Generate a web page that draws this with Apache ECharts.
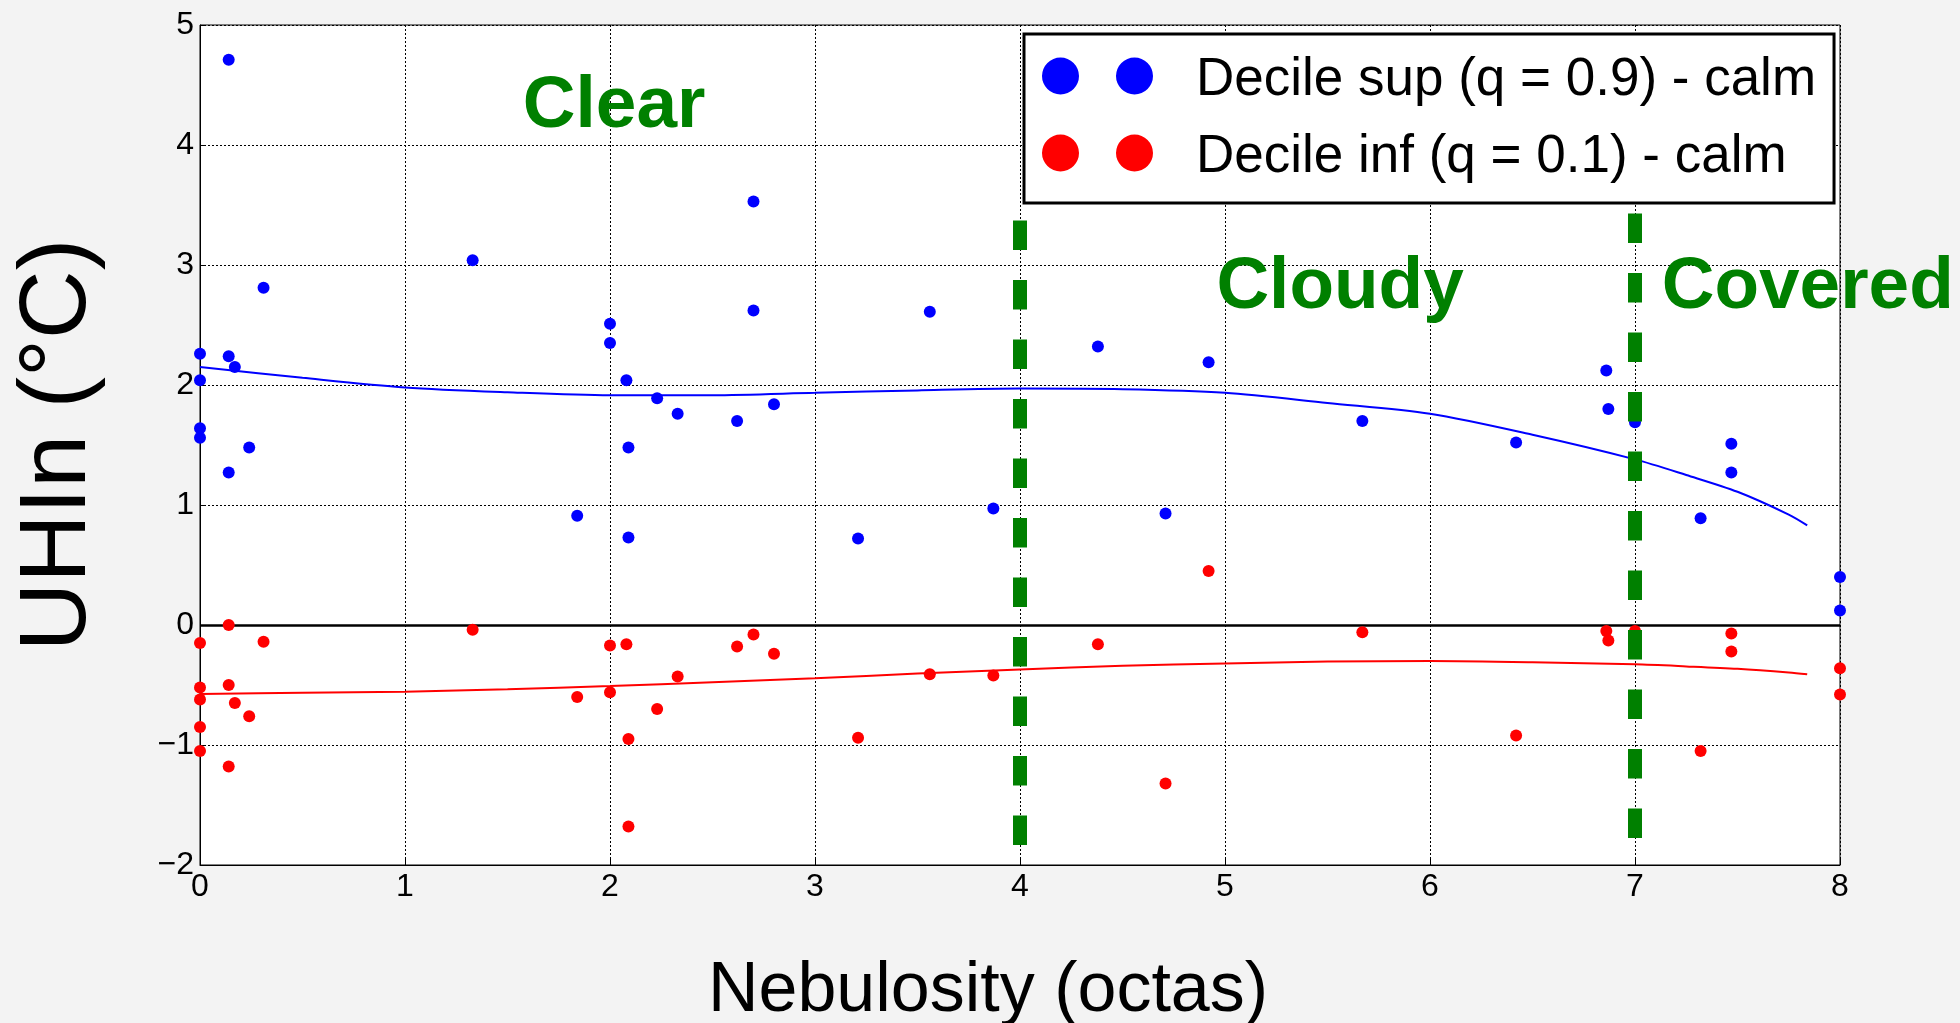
<!DOCTYPE html>
<html><head><meta charset="utf-8">
<script src="https://cdn.jsdelivr.net/npm/echarts@6/dist/echarts.min.js"></script>
<style>html,body{margin:0;padding:0;background:#f3f3f3;}#chart{width:1960px;height:1023px;}</style>
</head><body><div id="chart"></div>
<script>
// Upper decile (q = 0.9) points
const SUP_X = [0.14, 0, 0, 0, 0, 0.14, 0.17, 0.14, 0.24, 0.31, 1.33, 1.84, 2.0, 2.0, 2.08, 2.09, 2.09, 2.23, 2.33, 2.62, 2.70, 2.70, 2.80, 3.21, 3.56, 3.87, 4.38, 4.71, 4.92, 5.67, 6.42, 6.86, 6.87, 7.0, 7.32, 7.47, 7.47, 8, 8];
const SUP_Y = [4.71, 2.26, 2.04, 1.64, 1.56, 2.24, 2.15, 1.27, 1.48, 2.81, 3.04, 0.91, 2.51, 2.35, 2.04, 1.48, 0.73, 1.89, 1.76, 1.70, 3.53, 2.62, 1.84, 0.72, 2.61, 0.97, 2.32, 0.93, 2.19, 1.70, 1.52, 2.12, 1.80, 1.69, 0.89, 1.51, 1.27, 0.40, 0.12];
// Lower decile (q = 0.1) points
const INF_X = [0.14, 0, 0.31, 1.33, 2.0, 2.08, 2.62, 2.70, 2.80, 2.33, 0.14, 0, 0, 0.17, 1.84, 2.0, 2.23, 0.24, 0, 0, 2.09, 0.14, 2.09, 3.21, 3.56, 3.87, 4.38, 4.71, 4.92, 5.67, 6.42, 6.86, 6.87, 7.0, 7.32, 7.47, 7.47, 8, 8];
const INF_Y = [0.0, -0.15, -0.14, -0.04, -0.17, -0.16, -0.18, -0.08, -0.24, -0.43, -0.50, -0.52, -0.62, -0.65, -0.60, -0.56, -0.70, -0.76, -0.85, -1.05, -0.95, -1.18, -1.68, -0.94, -0.41, -0.42, -0.16, -1.32, 0.45, -0.06, -0.92, -0.05, -0.13, -0.05, -1.05, -0.07, -0.22, -0.36, -0.58];
// Fitted curves
const FIT_X = [0, 0.5, 1, 1.5, 2, 2.5, 3, 3.5, 4, 4.5, 5, 5.5, 6, 6.5, 7, 7.25, 7.5, 7.75, 7.84];
const FIT_SUP = [2.15, 2.06, 1.98, 1.94, 1.915, 1.915, 1.935, 1.955, 1.97, 1.965, 1.935, 1.85, 1.76, 1.585, 1.38, 1.25, 1.11, 0.92, 0.83];
const FIT_INF = [-0.575, -0.565, -0.556, -0.535, -0.508, -0.477, -0.444, -0.405, -0.37, -0.34, -0.32, -0.305, -0.30, -0.31, -0.328, -0.345, -0.365, -0.395, -0.41];
// Regime boundaries
const BOUNDARY_X = [4, 7];
const BOUNDARY_TOP = [3.37, 3.43];
const BOUNDARY_BOTTOM = -2;
const REGION_NAMES = ['Clear', 'Cloudy', 'Covered'];
const LEGEND_NAMES = ['Decile sup (q = 0.9) - calm', 'Decile inf (q = 0.1) - calm'];
const X_MIN = 0, X_MAX = 8, Y_MIN = -2, Y_MAX = 5, TICK_STEP = 1;
const X_TITLE = 'Nebulosity (octas)';
const Y_TITLE = 'UHIn (°C)';

const FONT = '"Liberation Sans", Arial, sans-serif';
const zip = (xs, ys) => xs.map((x, i) => [x, ys[i]]);
const fmt = v => (v < 0 ? '\u2212' + Math.abs(v) : String(v));

const chart = echarts.init(document.getElementById('chart'), null, {renderer: 'canvas'});

const boundarySeries = BOUNDARY_X.map((bx, i) => ({
  type: 'line',
  name: 'boundary' + i,
  data: [[bx, BOUNDARY_TOP[i]], [bx, BOUNDARY_BOTTOM]],
  showSymbol: false,
  symbol: 'none',
  silent: true,
  z: 6,
  lineStyle: {color: '#008000', width: 14, type: [29.5, 30], cap: 'butt'}
}));

const regionPos = [[522.8, 128.3], [1216.4, 309.3], [1661.7, 309.3]];

chart.setOption({
  animation: false,
  backgroundColor: '#f3f3f3',
  textStyle: {fontFamily: FONT},
  grid: {left: 200, top: 25, width: 1640, height: 840, show: true, borderColor: '#000', borderWidth: 1, backgroundColor: '#fff', outerBoundsMode: 'none', containLabel: false},
  xAxis: {
    type: 'value', min: X_MIN, max: X_MAX, interval: TICK_STEP,
    axisLine: {show: true, onZero: false, lineStyle: {color: '#000', width: 1}},
    axisTick: {show: true, inside: true, length: 6, lineStyle: {color: '#000'}},
    axisLabel: {fontSize: 32, color: '#000', margin: 6, fontFamily: FONT, formatter: fmt},
    splitLine: {show: true, lineStyle: {color: '#000', type: [2, 2], width: 1}},
    name: X_TITLE, nameLocation: 'middle', nameGap: 92,
    nameTextStyle: {fontSize: 70, color: '#000', fontFamily: FONT, padding: [0, 64, 0, 0]}
  },
  yAxis: {
    type: 'value', min: Y_MIN, max: Y_MAX, interval: TICK_STEP,
    axisLine: {show: true, onZero: false, lineStyle: {color: '#000', width: 1}},
    axisTick: {show: true, inside: true, length: 6, lineStyle: {color: '#000'}},
    axisLabel: {fontSize: 32, color: '#000', margin: 6, fontFamily: FONT, formatter: fmt},
    splitLine: {show: true, lineStyle: {color: '#000', type: [2, 2], width: 1}},
    name: Y_TITLE, nameLocation: 'middle', nameGap: 94, nameRotate: 90,
    nameTextStyle: {fontSize: 95, color: '#000', fontFamily: FONT}
  },
  legend: {
    data: LEGEND_NAMES,
    orient: 'vertical', left: 1024, top: 34,
    icon: 'path://M0,1A1,1,0,1,1,2,1A1,1,0,1,1,0,1Z M4,1A1,1,0,1,1,6,1A1,1,0,1,1,4,1Z',
    itemWidth: 111, itemHeight: 37, itemGap: 15,
    padding: [11, 18, 19, 18],
    backgroundColor: '#fff', borderColor: '#000', borderWidth: 3,
    selectedMode: false, z: 20,
    itemStyle: {opacity: 1},
    formatter: '{a|{name}}',
    textStyle: {
      fontSize: 53, color: '#000', fontFamily: FONT,
      rich: {a: {fontSize: 53, color: '#000', fontFamily: FONT, lineHeight: 53, padding: [9, 0, 0, 38]}}
    }
  },
  graphic: REGION_NAMES.map((t, i) => ({
    type: 'text', z: 15, silent: true,
    x: regionPos[i][0], y: regionPos[i][1] - 0.3465 * 73 + 3.5,
    style: {text: t, fill: '#008000', font: 'bold 73px ' + FONT, align: 'left', verticalAlign: 'middle'}
  })),
  series: [
    {
      type: 'scatter', name: LEGEND_NAMES[0], data: zip(SUP_X, SUP_Y),
      symbol: 'circle', symbolSize: 12, itemStyle: {color: '#0000ff', opacity: 1}, z: 3
    },
    {
      type: 'scatter', name: LEGEND_NAMES[1], data: zip(INF_X, INF_Y),
      symbol: 'circle', symbolSize: 12, itemStyle: {color: '#ff0000', opacity: 1}, z: 3,
      markLine: {
        silent: true, symbol: ['none', 'none'], label: {show: false},
        lineStyle: {color: '#000', width: 2.5, type: 'solid'},
        data: [{yAxis: 0}], z: 2
      }
    },
    {
      type: 'line', name: 'fit sup', data: zip(FIT_X, FIT_SUP), smooth: 0.3,
      showSymbol: false, symbol: 'none', z: 4, silent: true,
      lineStyle: {color: '#0000ff', width: 2}
    },
    {
      type: 'line', name: 'fit inf', data: zip(FIT_X, FIT_INF), smooth: 0.3,
      showSymbol: false, symbol: 'none', z: 4, silent: true,
      lineStyle: {color: '#ff0000', width: 2}
    },
    ...boundarySeries
  ]
});
</script></body></html>
